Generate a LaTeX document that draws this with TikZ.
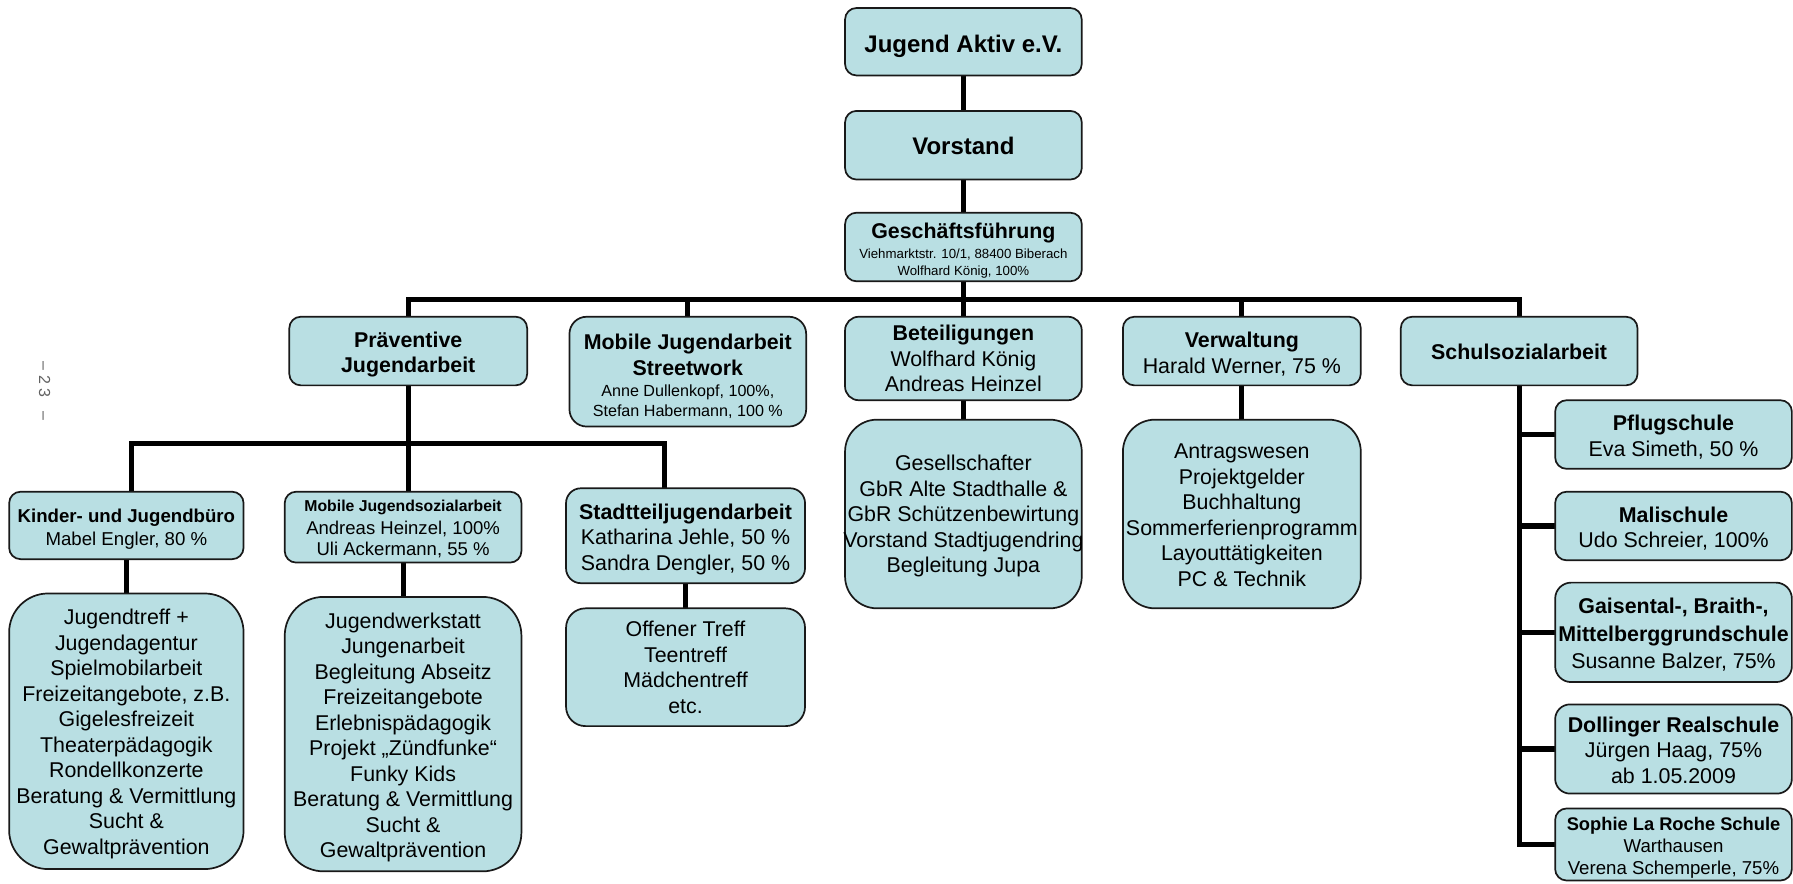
\documentclass[tikz,border=0pt]{standalone}
\usepackage{fontspec}
\setmainfont{Liberation Sans}
\usetikzlibrary{backgrounds}
\definecolor{boxfill}{RGB}{185,223,227}
\definecolor{boxline}{RGB}{25,25,25}
\newcommand\myfs[2]{\fontsize{#1}{#2}\selectfont}
\newcommand\up[1]{\rule{0pt}{#1pt}}
\begin{document}
\begin{tikzpicture}[x=1pt,y=-1pt,
  box/.style={draw=boxline, fill=boxfill, line width=1.5pt, inner sep=0pt, outer sep=0pt,
    align=center, font=\myfs{18.7}{22.3}, text=black},
  conn/.style={line width=4.5pt, line join=miter, draw=black}]
\useasboundingbox (0,0) rectangle (1568,773);

% top chain
\node[box, minimum width=207pt, minimum height=59pt, rounded corners=10pt] (ja) at (842.5,36.5)
  {{\bfseries\myfs{21}{24}\up{23.3}Jugend Aktiv e.V.}};
\node[box, minimum width=207pt, minimum height=60pt, rounded corners=10pt] (vor) at (842.5,127)
  {{\bfseries\myfs{21}{24}\up{17}Vorstand}};
\node[box, minimum width=207pt, minimum height=60pt, rounded corners=10pt] (gf) at (842.5,216)
  {{\bfseries\up{19.7}Geschäftsführung}\\[-4.3pt]
   {\myfs{11.6}{13.5}Viehmarktstr. 10/1, 88400 Biberach}\\[-7.3pt]
   {\myfs{11.6}{13.5}Wolfhard König, 100\%}};

% level 2
\node[box, minimum width=208pt, minimum height=60pt, rounded corners=10pt] (prav) at (357,307)
  {{\bfseries\up{19.7}Präventive}\\{\bfseries Jugendarbeit}};
\node[box, minimum width=207pt, minimum height=96pt, rounded corners=15pt] (mja) at (601.5,325)
  {{\bfseries\up{21.7}Mobile Jugendarbeit}\\{\bfseries Streetwork}\\[-3.3pt]
   {\myfs{14.1}{16}Anne Dullenkopf, 100\%,}\\[-5.3pt]
   {\myfs{14.1}{16}Stefan Habermann, 100 \%}};
\node[box, minimum width=207pt, minimum height=73pt, rounded corners=12pt] (bet) at (842.5,313.5)
  {{\bfseries Beteiligungen}\\Wolfhard König\\Andreas Heinzel};
\node[box, minimum width=208pt, minimum height=60pt, rounded corners=10pt] (verw) at (1086,307)
  {{\bfseries\up{18.7}Verwaltung}\\Harald Werner, 75 \%};
\node[box, minimum width=207pt, minimum height=60pt, rounded corners=10pt] (schul) at (1328.5,307)
  {{\bfseries\up{15.7}Schulsozialarbeit}};

% level 3 (Präventive)
\node[box, minimum width=205pt, minimum height=59pt, rounded corners=10pt] (kjb) at (110.5,459.5)
  {{\bfseries\myfs{16.3}{19}\up{18.9}Kinder- und Jugendbüro}\\[-2.3pt]
   {\myfs{16.3}{19}Mabel Engler, 80 \%}};
\node[box, minimum width=207pt, minimum height=62pt, rounded corners=10pt] (mjsa) at (352.5,461)
  {{\bfseries\myfs{13.8}{16}\up{13.1}Mobile Jugendsozialarbeit}\\[-2.3pt]
   {\myfs{16.2}{19}Andreas Heinzel, 100\%}\\[-3.3pt]
   {\myfs{16.2}{19}Uli Ackermann, 55 \%}};
\node[box, minimum width=209pt, minimum height=83pt, rounded corners=13pt] (stj) at (599.5,468.5)
  {{\bfseries\up{19.7}Stadtteiljugendarbeit}\\Katharina Jehle, 50 \%\\Sandra Dengler, 50 \%};

% lists
\node[box, minimum width=205pt, minimum height=241pt, rounded corners=34pt] (kjbl) at (110.5,639.5)
  {\up{18.7}Jugendtreff +\\Jugendagentur\\Spielmobilarbeit\\Freizeitangebote, z.B.\\Gigelesfreizeit\\
   Theaterpädagogik\\Rondellkonzerte\\Beratung \& Vermittlung\\Sucht \&\\Gewaltprävention};
\node[box, minimum width=207pt, minimum height=240pt, rounded corners=34pt] (mjsal) at (352.5,642)
  {\up{19.7}Jugendwerkstatt\\Jungenarbeit\\Begleitung Abseitz\\Freizeitangebote\\Erlebnispädagogik\\
   Projekt „Zündfunke“\\Funky Kids\\Beratung \& Vermittlung\\Sucht \&\\Gewaltprävention};
\node[box, minimum width=209pt, minimum height=103pt, rounded corners=17pt] (stjl) at (599.5,583.5)
  {Offener Treff\\Teentreff\\Mädchentreff\\etc.};
\node[box, minimum width=207pt, minimum height=165pt, rounded corners=28pt] (betl) at (842.5,449.5)
  {\up{17.7}Gesellschafter\\GbR Alte Stadthalle \&\\GbR Schützenbewirtung\\
   \makebox[200pt]{Vorstand Stadtjugendring}\\Begleitung Jupa};
\node[box, minimum width=208pt, minimum height=165pt, rounded corners=28pt] (verwl) at (1086,449.5)
  {\up{15.4}Antragswesen\\Projektgelder\\Buchhaltung\\Sommerferienprogramm\\Layouttätigkeiten\\PC \& Technik};

% schools
\node[box, minimum width=207pt, minimum height=60pt, rounded corners=10pt] (pflug) at (1463.5,380)
  {{\bfseries\up{17.7}Pflugschule}\\Eva Simeth, 50 \%};
\node[box, minimum width=207pt, minimum height=60pt, rounded corners=10pt] (mali) at (1463.5,460)
  {{\bfseries\up{17.7}Malischule}\\Udo Schreier, 100\%};
\node[box, minimum width=207pt, minimum height=87pt, rounded corners=14pt] (gais) at (1463.5,553)
  {{\bfseries\up{17.7}Gaisental-, Braith-,}\\[1.5pt]{\bfseries Mittelberggrundschule}\\[1.5pt]Susanne Balzer, 75\%};
\node[box, minimum width=207pt, minimum height=78pt, rounded corners=13pt] (doll) at (1463.5,655)
  {{\bfseries\up{15.7}Dollinger Realschule}\\Jürgen Haag, 75\%\\ab 1.05.2009};
\node[box, minimum width=207pt, minimum height=63pt, rounded corners=10pt] (soph) at (1463.5,738.5)
  {{\bfseries\myfs{16}{19}\up{17.7}Sophie La Roche Schule}\\[-3.3pt]
   {\myfs{16.3}{19}Warthausen}\\[-3.3pt]
   {\myfs{16.3}{19}Verena Schemperle, 75\%}};

% page number
\node[rotate=-90, text=black!62, font=\myfs{14}{16}, inner sep=0pt] (pnum) at (39,342)
  {–\hspace{5pt}2\hspace{3pt}3\hspace{13pt}–};

% connectors
\coordinate (mbus) at (842.5,262);
\coordinate (pbus) at (357,388);
\begin{scope}[on background layer]
  \draw[conn] (ja.south) -- (vor.north);
  \draw[conn] (vor.south) -- (gf.north);
  \draw[conn] (gf.south) -- (bet.north);
  \draw[conn] (prav.north) |- (mbus) -| (schul.north);
  \draw[conn] (mja.north) -- (mja.north |- mbus);
  \draw[conn] (verw.north) -- (verw.north |- mbus);
  \draw[conn] (prav.south) -- (prav.south |- mjsa.north);
  \draw[conn] ([xshift=4.5pt]kjb.north) |- (pbus) -| ([xshift=-18.5pt]stj.north);
  \draw[conn] (kjb.south) -- (kjbl.north);
  \draw[conn] (mjsa.south) -- (mjsal.north);
  \draw[conn] (stj.south) -- (stjl.north);
  \draw[conn] (bet.south) -- (betl.north);
  \draw[conn] (verw.south) -- (verwl.north);
  \draw[conn] (schul.south) |- (soph.west);
  \foreach \n in {pflug,mali,gais,doll}
    \draw[conn] (schul.south |- \n.west) -- (\n.west);
\end{scope}
\end{tikzpicture}
\end{document}
